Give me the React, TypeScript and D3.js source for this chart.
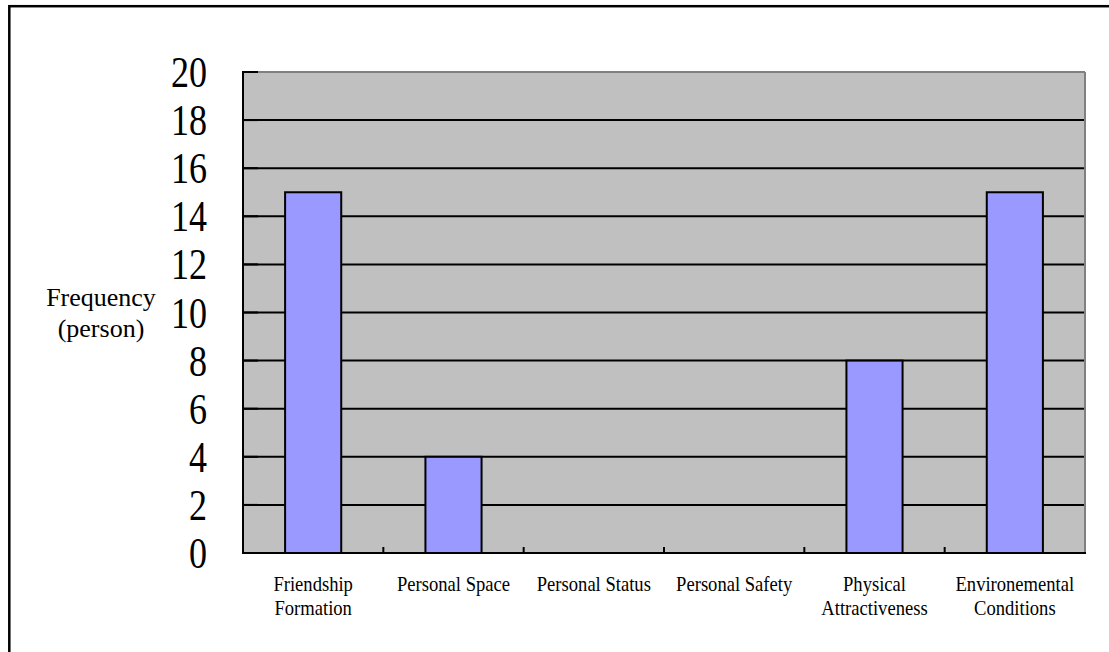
import React from "react";
import * as d3 from "d3";

const categories: string[][] = [
  ["Friendship", "Formation"],
  ["Personal Space"],
  ["Personal Status"],
  ["Personal Safety"],
  ["Physical", "Attractiveness"],
  ["Environemental", "Conditions"],
];
const values: number[] = [15, 4, 0, 0, 8, 15];
const yTicks: number[] = [0, 2, 4, 6, 8, 10, 12, 14, 16, 18, 20];
const yLabel: string[] = ["Frequency", "(person)"];

export default function App() {
  const W = 1109, H = 652;
  const left = 243, right = 1085, top = 72, bottom = 553;
  const x = d3.scaleBand<number>().domain(d3.range(categories.length)).range([left, right]).paddingInner(0).paddingOuter(0);
  const y = d3.scaleLinear().domain([0, 20]).range([bottom, top]);
  const bw = x.bandwidth() * 0.4;
  const font = "Liberation Serif";

  return (
    <svg width={W} height={H} style={{ position: "absolute", left: 0, top: 0 }}>
      <rect x={0} y={0} width={W} height={H} fill="#fff" />
      <rect x={9.3} y={6.2} width={1200} height={800} fill="none" stroke="#000" strokeWidth={2.5} />
      <rect x={left} y={top} width={right - left} height={bottom - top} fill="#c0c0c0" />
      {yTicks.filter((t) => t > 0 && t < 20).map((t) => (
        <line key={"g" + t} x1={left} x2={right} y1={y(t)} y2={y(t)} stroke="#000" strokeWidth={2} />
      ))}
      <line x1={left} x2={right} y1={top} y2={top} stroke="#808080" strokeWidth={2} />
      <line x1={right} x2={right} y1={top} y2={bottom} stroke="#808080" strokeWidth={2} />
      {values.map((v, i) =>
        v > 0 ? (
          <rect
            key={"b" + i}
            x={(x(i) as number) + (x.bandwidth() - bw) / 2}
            y={y(v)}
            width={bw}
            height={y(0) - y(v)}
            fill="#9999ff"
            stroke="#000"
            strokeWidth={2}
          />
        ) : null
      )}
      <line x1={left} x2={left} y1={top - 1} y2={bottom + 1} stroke="#000" strokeWidth={2} />
      <line x1={left - 1} x2={right + 1} y1={bottom} y2={bottom} stroke="#000" strokeWidth={2} />
      {yTicks.map((t) => (
        <line key={"yt" + t} x1={left} x2={left + 15} y1={y(t)} y2={y(t)} stroke="#000" strokeWidth={2} />
      ))}
      {d3.range(1, categories.length).map((i) => (
        <line key={"xt" + i} x1={x(i) as number} x2={x(i) as number} y1={bottom} y2={bottom - 6} stroke="#000" strokeWidth={2} />
      ))}
      {yTicks.map((t) => (
        <text
          key={"yl" + t}
          transform={`translate(207,${y(t) + 15}) scale(0.82,1)`}
          textAnchor="end"
          fontFamily={font}
          fontSize={44}
          fill="#000"
        >
          {t}
        </text>
      ))}
      {yLabel.map((s, i) => (
        <text key={"ya" + i} x={101} y={306 + i * 31} textAnchor="middle" fontFamily={font} fontSize={26} fill="#000">
          {s}
        </text>
      ))}
      {categories.map((lines, i) =>
        lines.map((s, j) => (
          <text
            key={"c" + i + "_" + j}
            transform={`translate(${(x(i) as number) + x.bandwidth() / 2},${591 + j * 24}) scale(0.93,1)`}
            textAnchor="middle"
            fontFamily={font}
            fontSize={20}
            fill="#000"
          >
            {s}
          </text>
        ))
      )}
    </svg>
  );
}
